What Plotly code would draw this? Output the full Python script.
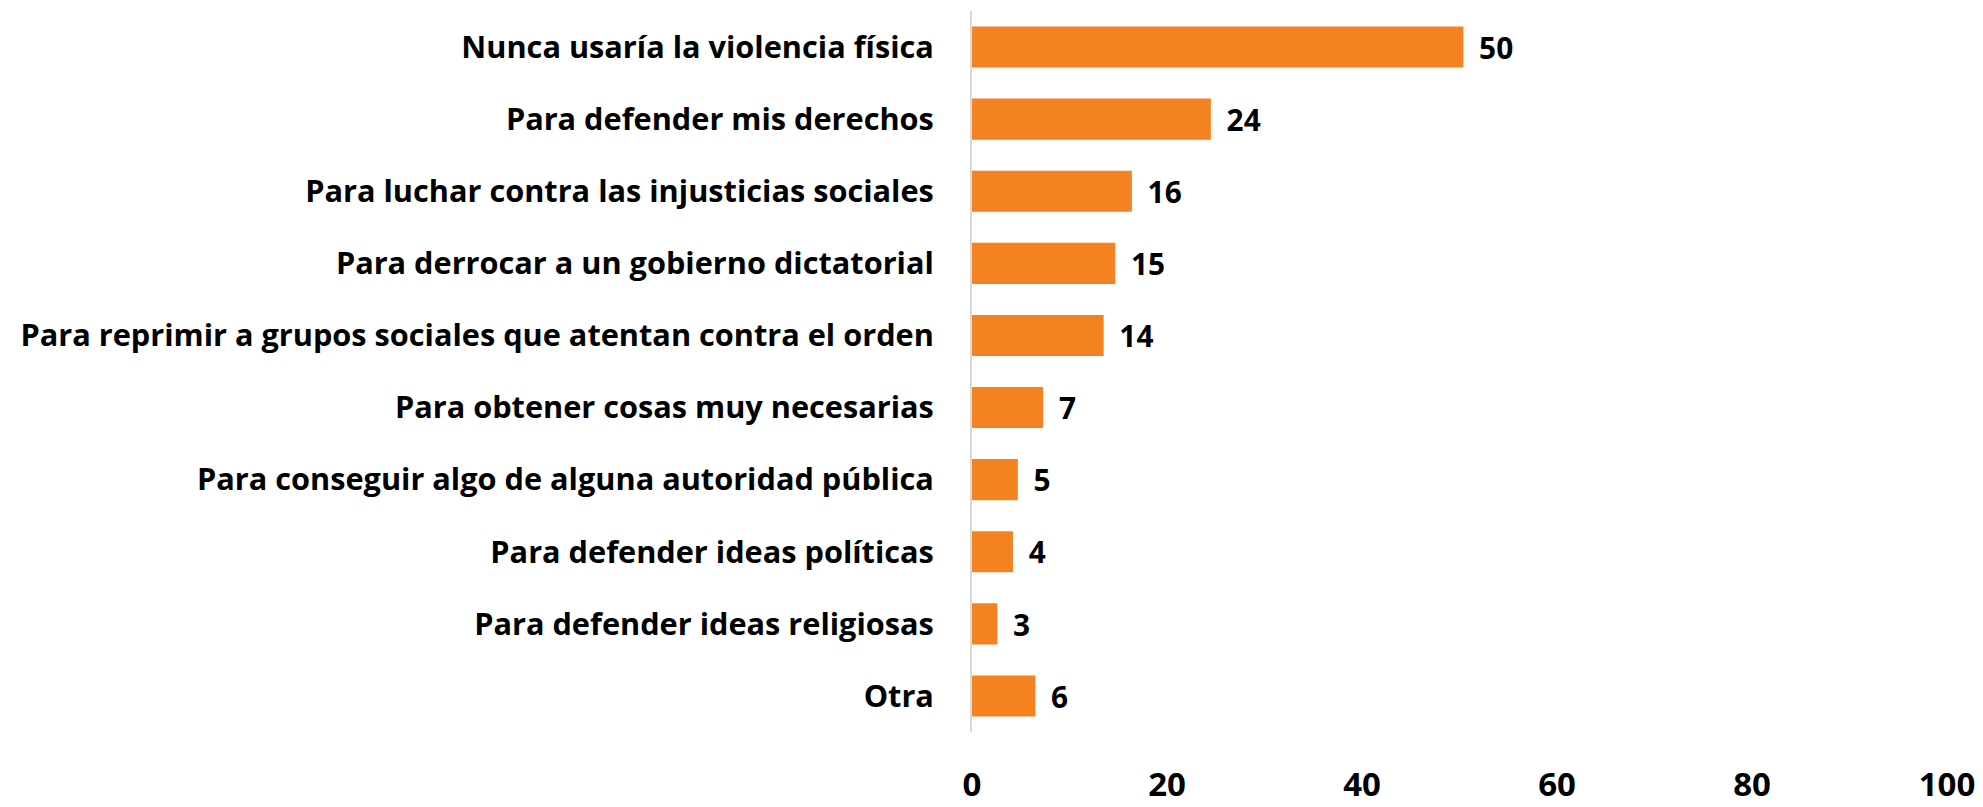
import plotly.graph_objects as go

categories = [
    "Nunca usaría la violencia física",
    "Para defender mis derechos",
    "Para luchar contra las injusticias sociales",
    "Para derrocar a un gobierno dictatorial",
    "Para reprimir a grupos sociales que atentan contra el orden",
    "Para obtener cosas muy necesarias",
    "Para conseguir algo de alguna autoridad pública",
    "Para defender ideas políticas",
    "Para defender ideas religiosas",
    "Otra",
]
values = [50.4, 24.5, 16.4, 14.7, 13.5, 7.3, 4.7, 4.2, 2.6, 6.5]
labels = ["50", "24", "16", "15", "14", "7", "5", "4", "3", "6"]
x_ticks = [0, 20, 40, 60, 80, 100]

FONT = "Open Sans"
ORANGE = "#F58220"

fig = go.Figure(
    go.Bar(
        x=values,
        y=categories,
        orientation="h",
        marker=dict(color=ORANGE, line=dict(width=0)),
        text=labels,
        texttemplate=" \u2009%{text}",
        textposition="outside",
        textfont=dict(family=FONT, size=37, color="#000000", weight="bold"),
        cliponaxis=False,
        width=0.57,
        hoverinfo="skip",
    )
)

fig.update_layout(
    width=1983,
    height=807,
    paper_bgcolor="white",
    plot_bgcolor="white",
    margin=dict(l=972, r=36, t=11, b=75, autoexpand=False),
    showlegend=False,
    font=dict(family=FONT, color="#000000"),
)

fig.update_xaxes(
    range=[0, 100],
    tickvals=x_ticks,
    ticktext=[str(v) for v in x_ticks],
    showgrid=False,
    zeroline=False,
    showline=False,
    ticks="",
    ticklabelstandoff=30,
    tickfont=dict(family=FONT, size=33, color="#000000", weight="bold"),
    automargin=False,
)

fig.update_yaxes(
    categoryorder="array",
    categoryarray=categories,
    autorange="reversed",
    showgrid=False,
    zeroline=False,
    showline=True,
    linecolor="#D9D9D9",
    linewidth=2,
    ticks="",
    ticklabelstandoff=30,
    tickfont=dict(family=FONT, size=30.7, color="#000000", weight="bold"),
    automargin=False,
)

fig.write_html(
    "out.html",
    config={"displayModeBar": False},
    post_script="document.body.style.margin='0';document.body.style.overflow='hidden';",
)
